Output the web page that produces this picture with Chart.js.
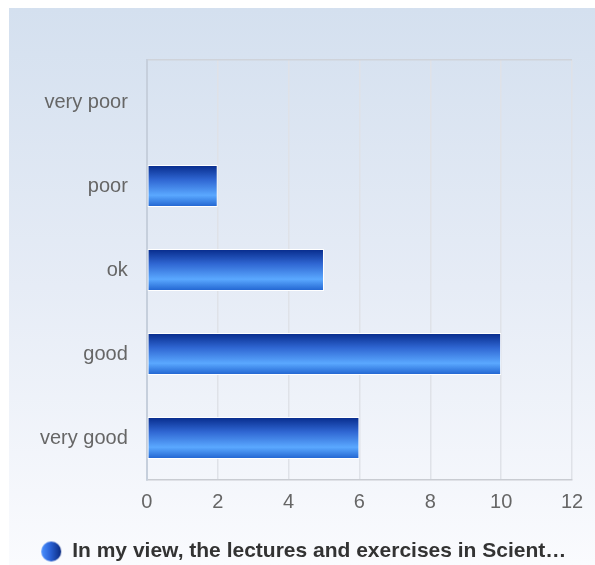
<!DOCTYPE html>
<html>
<head>
<meta charset="utf-8">
<script src="https://cdn.jsdelivr.net/npm/chart.js@4.4.0/dist/chart.umd.min.js"></script>
<style>
  html, body { margin: 0; padding: 0; background: #fff; }
  #panel {
    position: absolute; left: 9px; top: 8px; width: 586px; height: 557px;
    background: linear-gradient(to bottom, #d4e0ef 0%, #e6ecf6 50%, #fafbfe 100%);
  }
</style>
</head>
<body>
<div id="panel"><canvas id="myChart" width="586" height="557"></canvas></div>
<script>
const categorias = ["very poor", "poor", "ok", "good", "very good"];
const valores = [0, 2, 5, 10, 6];
const etiqueta = "In my view, the lectures and exercises in Scient\u2026";
const ticksX = [0, 2, 4, 6, 8, 10, 12];

// little round legend marker with a sideways gradient
const marca = document.createElement("canvas");
marca.width = 22; marca.height = 22;
const mctx = marca.getContext("2d");
const mg = mctx.createLinearGradient(1, 0, 21, 0);
mg.addColorStop(0, "#4a90ff");
mg.addColorStop(0.45, "#2a62d6");
mg.addColorStop(1, "#0a2a80");
mctx.fillStyle = mg;
mctx.beginPath();
mctx.arc(11, 11, 10, 0, Math.PI * 2);
mctx.fill();

var barGradient = (ctx) => {
    const chart = ctx.chart;
    const y = chart.scales && chart.scales.y;
    if (!y || ctx.dataIndex === undefined) return "#2a62d6";
    const centro = y.getPixelForValue(ctx.dataIndex);
    if (!isFinite(centro)) return "#2a62d6";
    const medio = 21;
    const g = chart.ctx.createLinearGradient(0, centro - medio, 0, centro + medio);
    g.addColorStop(0, "#062a8a");
    g.addColorStop(0.35, "#2f66d2");
    g.addColorStop(0.72, "#5aa8ff");
    g.addColorStop(1, "#1f62cf");
    return g;
};

const data = {
    labels: categorias,
    datasets: [
        {
            label: etiqueta,
            data: valores,
            backgroundColor: barGradient,
            borderColor: "#ffffff",
            borderWidth: 1,
            borderSkipped: false,
            categoryPercentage: 1,
            barPercentage: 0.5,
        },
    ],
};

const config = {
    type: "bar",
    data: data,
    options: {
        indexAxis: "y",
        responsive: false,
        animation: false,
        layout: { padding: { top: 52, left: 26, right: 23, bottom: -7 } },
        scales: {
            x: {
                min: 0,
                max: 12,
                afterBuildTicks: (axis) => { axis.ticks = ticksX.map((v) => ({ value: v })); },
                afterFit: (s) => { s.height += 12; },
                grid: { color: "#dfe2e8", lineWidth: 1.5, drawTicks: false },
                border: { color: "#c9ccd2", width: 1.5 },
                ticks: {
                    padding: 10,
                    color: "#666",
                    font: { family: "Liberation Sans, Arial", size: 20 },
                },
            },
            y: {
                afterFit: (s) => { s.width -= 14; },
                grid: {
                    drawTicks: false,
                    lineWidth: 1.5,
                    color: (c) => (c.index === 0 ? "#cfd3da" : "rgba(0,0,0,0)"),
                },
                border: { color: "#c6cfdc", width: 2 },
                ticks: {
                    padding: 19,
                    color: "#666",
                    font: { family: "Liberation Sans, Arial", size: 20 },
                },
            },
        },
        plugins: {
            tooltip: { enabled: false },
            legend: {
                position: "bottom",
                labels: {
                    usePointStyle: true,
                    pointStyle: marca,
                    padding: 5,
                    color: "#333",
                    font: { family: "Liberation Sans, Arial", size: 21, weight: "bold" },
                },
            },
        },
    },
};
const myChart = new Chart(document.getElementById("myChart"), config);
</script>
</body>
</html>
